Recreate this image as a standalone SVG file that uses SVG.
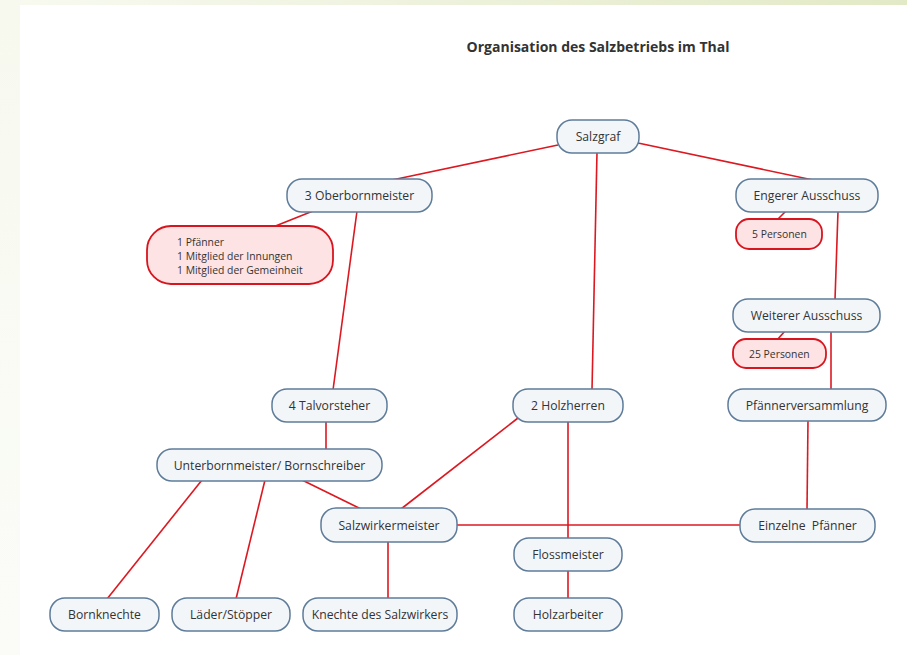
<svg xmlns="http://www.w3.org/2000/svg" width="907" height="655" viewBox="0 0 907 655">
<defs>
<linearGradient id="topband" x1="0" y1="0" x2="1" y2="0">
<stop offset="0" stop-color="#f8faf1"/>
<stop offset="1" stop-color="#e2e9c6"/>
</linearGradient>
<linearGradient id="leftband" x1="0" y1="0" x2="0" y2="1">
<stop offset="0" stop-color="#f7f9ef"/>
<stop offset="1" stop-color="#fbfcf8"/>
</linearGradient>
<style>
.n rect{fill:#f3f6f9;stroke:#5e7c9a;stroke-width:1.5}
.p rect{fill:#fde3e4;stroke:#d8141e;stroke-width:1.8}
text{font-family:"Open Sans","Noto Sans","DejaVu Sans",sans-serif;fill:#333}
.n text{font-size:12.2px;text-anchor:middle}
.p text{font-size:10.4px}
.title{font-size:14px;font-weight:bold;text-anchor:middle}
#edges line{stroke:#dc1820;stroke-width:1.6}
</style>
</defs>
<rect width="907" height="655" fill="#ffffff"/>
<rect x="0" y="0" width="907" height="5" fill="url(#topband)"/>
<rect x="0" y="0" width="20" height="655" fill="url(#leftband)"/>
<text class="title" x="598" y="52">Organisation des Salzbetriebs im Thal</text>
<g id="edges">
<line x1="558" y1="145" x2="392" y2="180"/>
<line x1="638" y1="143" x2="813" y2="180"/>
<line x1="597" y1="152" x2="592" y2="390"/>
<line x1="313" y1="211" x2="273" y2="227"/>
<line x1="357" y1="211" x2="333" y2="390"/>
<line x1="786" y1="211" x2="777" y2="220"/>
<line x1="838" y1="211" x2="835" y2="300"/>
<line x1="785" y1="331" x2="777" y2="340"/>
<line x1="831" y1="331" x2="831" y2="390"/>
<line x1="808" y1="420" x2="807" y2="510"/>
<line x1="326" y1="421" x2="326" y2="450"/>
<line x1="202" y1="480" x2="107" y2="599"/>
<line x1="265" y1="480" x2="236" y2="599"/>
<line x1="302" y1="480" x2="361" y2="509"/>
<line x1="518" y1="418" x2="401" y2="509"/>
<line x1="568" y1="421" x2="568" y2="539"/>
<line x1="456" y1="525" x2="741" y2="525"/>
<line x1="388" y1="541" x2="388" y2="599"/>
<line x1="568" y1="570" x2="568" y2="599"/>
</g>
<g id="salzgraf" class="n"><rect x="557" y="120" width="82" height="33" rx="15"/><text x="598" y="141">Salzgraf</text></g>
<g id="oberbornmeister" class="n"><rect x="287" y="179" width="145" height="33" rx="15"/><text x="359.5" y="200">3 Oberbornmeister</text></g>
<g id="oberbornmeister-note" class="p"><rect x="147" y="226" width="186" height="58" rx="24"/><text x="177" y="246">1 Pfänner</text><text x="177" y="260">1 Mitglied der Innungen</text><text x="177" y="274">1 Mitglied der Gemeinheit</text></g>
<g id="engerer" class="n"><rect x="736" y="179" width="142" height="33" rx="15"/><text x="807" y="200">Engerer Ausschuss</text></g>
<g id="engerer-note" class="p"><rect x="736" y="219" width="86" height="30" rx="13"/><text x="752" y="238">5 Personen</text></g>
<g id="weiterer" class="n"><rect x="733" y="299" width="147" height="33" rx="15"/><text x="806.5" y="320">Weiterer Ausschuss</text></g>
<g id="weiterer-note" class="p"><rect x="733" y="339" width="93" height="29" rx="13"/><text x="749" y="358">25 Personen</text></g>
<g id="pfaennerversammlung" class="n"><rect x="728" y="389" width="158" height="32" rx="15"/><text x="807" y="410">Pfännerversammlung</text></g>
<g id="talvorsteher" class="n"><rect x="272" y="389" width="115" height="33" rx="15"/><text x="329.5" y="410">4 Talvorsteher</text></g>
<g id="holzherren" class="n"><rect x="513" y="389" width="110" height="33" rx="15"/><text x="568" y="410">2 Holzherren</text></g>
<g id="unterbornmeister" class="n"><rect x="157" y="449" width="225" height="32" rx="15"/><text x="269.5" y="470">Unterbornmeister/ Bornschreiber</text></g>
<g id="salzwirkermeister" class="n"><rect x="321" y="508" width="136" height="34" rx="15"/><text x="389" y="530">Salzwirkermeister</text></g>
<g id="einzelne-pfaenner" class="n"><rect x="740" y="509" width="135" height="33" rx="15"/><text x="807.5" y="530" style="white-space:pre">Einzelne  Pfänner</text></g>
<g id="flossmeister" class="n"><rect x="514" y="538" width="108" height="33" rx="15"/><text x="568" y="559">Flossmeister</text></g>
<g id="bornknechte" class="n"><rect x="50" y="598" width="109" height="33" rx="15"/><text x="104.5" y="619">Bornknechte</text></g>
<g id="laeder" class="n"><rect x="172" y="598" width="118" height="33" rx="15"/><text x="231" y="619">Läder/Stöpper</text></g>
<g id="knechte" class="n"><rect x="303" y="598" width="154" height="33" rx="15"/><text x="380" y="619">Knechte des Salzwirkers</text></g>
<g id="holzarbeiter" class="n"><rect x="514" y="598" width="108" height="33" rx="15"/><text x="568" y="619">Holzarbeiter</text></g>
</svg>
